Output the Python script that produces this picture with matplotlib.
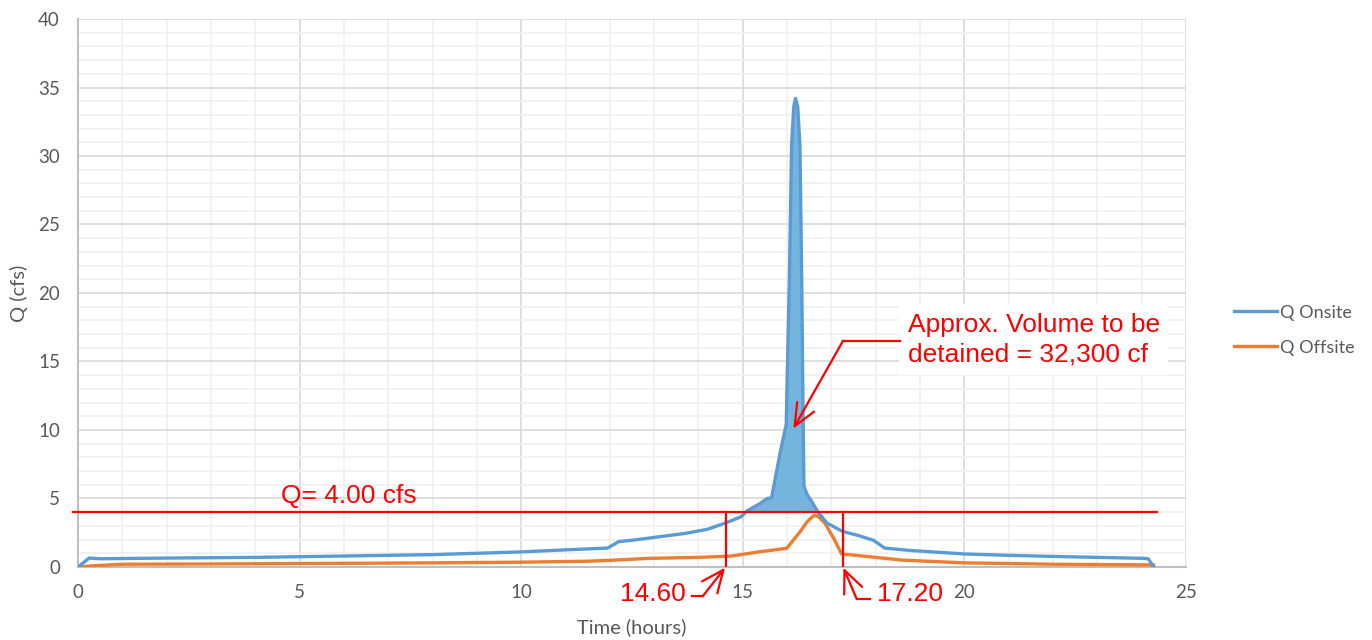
import numpy as np
import matplotlib.pyplot as plt
from matplotlib.ticker import MultipleLocator

# hydrograph readings (hours, cfs)
t_on = [0, 0.25, 0.5, 2, 4, 6, 8, 10, 11, 11.95, 12.2, 12.5, 13.1, 13.7, 14.2, 14.6,
        14.95, 15.1, 15.4, 15.55, 15.65, 15.84, 15.98, 16.0, 16.05, 16.1, 16.15, 16.19,
        16.24, 16.29, 16.33, 16.36, 16.38, 16.45, 16.55, 16.7, 16.9, 17.25, 17.6, 17.95,
        18.2, 18.8, 20, 21, 22, 23, 24.05, 24.15, 24.27]
q_on = [0, 0.65, 0.6, 0.65, 0.7, 0.8, 0.9, 1.1, 1.25, 1.38, 1.85, 1.95, 2.2, 2.45, 2.75, 3.2,
        3.65, 4.1, 4.65, 5.0, 5.05, 8.3, 10.4, 13.6, 20.9, 30.7, 33.6, 34.2,
        33.6, 30.7, 20.9, 11.2, 5.9, 5.3, 4.8, 4.0, 3.2, 2.6, 2.3, 1.95,
        1.38, 1.2, 0.95, 0.85, 0.77, 0.7, 0.63, 0.6, 0.0]

t_off = [0, 0.4, 1, 3, 5, 8, 10, 11.5, 12.1, 12.9, 14, 14.75, 15.4, 15.99, 16.3, 16.45,
         16.6, 16.7, 16.85, 17.05, 17.23, 17.4, 18, 18.6, 20, 22, 24.27]
q_off = [0, 0.1, 0.2, 0.22, 0.25, 0.3, 0.35, 0.42, 0.5, 0.63, 0.7, 0.8, 1.12, 1.36, 2.6, 3.3,
         3.75, 3.7, 3.2, 2.1, 0.95, 0.9, 0.7, 0.5, 0.3, 0.2, 0.15]

q_limit = 4.00
t_start = 14.62
t_end = 17.27

blue = '#5B9BD5'
orange = '#ED7D31'
grey = '#595959'

fig = plt.figure(figsize=(13.72, 6.4), dpi=100)
ax = fig.add_axes([0.0569, 0.1141, 0.8075, 0.8562])

t_on_a = np.array(t_on)
q_on_a = np.array(q_on)
ax.fill_between(t_on_a, q_on_a, q_limit, where=q_on_a > q_limit, interpolate=True,
                color='#74B5DD', lw=0, zorder=2)

ax.plot(t_on, q_on, color=blue, lw=2.4, label='Q Onsite', zorder=4,
        solid_joinstyle='round')
ax.plot(t_off, q_off, color=orange, lw=2.4, label='Q Offsite', zorder=3,
        solid_joinstyle='round')

ax.set_xlim(0, 25)
ax.set_ylim(0, 40)
ax.xaxis.set_major_locator(MultipleLocator(5))
ax.xaxis.set_minor_locator(MultipleLocator(1))
ax.yaxis.set_major_locator(MultipleLocator(5))
ax.yaxis.set_minor_locator(MultipleLocator(1))
ax.grid(which='major', color='#D9D9D9', lw=1.2, zorder=0)
ax.grid(which='minor', color='#F0F0F0', lw=1.2, zorder=0)
ax.set_axisbelow(True)
for s in ['top', 'right']:
    ax.spines[s].set_visible(False)
for s in ['left', 'bottom']:
    ax.spines[s].set_color('#BFBFBF')
    ax.spines[s].set_linewidth(1.5)
ax.tick_params(which='both', length=0, labelsize=13.5, labelcolor=grey)
ax.tick_params(axis='x', pad=12)
ax.tick_params(axis='y', pad=13)
for lab in ax.get_xticklabels() + ax.get_yticklabels():
    lab.set_family('Lato')
ax.set_xlabel('Time (hours)', fontsize=14.5, color=grey, family='Lato', labelpad=13)
ax.set_ylabel('Q (cfs)', fontsize=14.5, color=grey, family='Lato', labelpad=7)

# threshold and limits
red = '#FF0000'
ax.plot([-0.11, 24.35], [q_limit, q_limit], color=red, lw=1.6, clip_on=False, zorder=5)
ax.plot([t_start, t_start], [0, q_limit], color=red, lw=1.6, zorder=5)
ax.plot([t_end, t_end], [0, q_limit], color=red, lw=1.6, zorder=5)

afont = dict(family='Liberation Sans', color=red, fontsize=19)
head = '->,head_length=1.6,head_width=0.7'
ax.text(4.58, 5.18, 'Q= 4.00 cfs', ha='left', va='center', **afont)

# 14.60 callout
ax.text(13.72, -1.95, '14.60', ha='right', va='center', clip_on=False, **afont)
ax.plot([13.85, 14.10], [-2.12, -2.12], color=red, lw=1.6, clip_on=False)
ax.annotate('', xy=(t_start - 0.02, -0.05), xytext=(14.10, -2.12),
            arrowprops=dict(arrowstyle=head, color=red, lw=1.6, shrinkA=0, shrinkB=0),
            annotation_clip=False)

# 17.20 callout
ax.text(18.03, -1.95, '17.20', ha='left', va='center', clip_on=False, **afont)
ax.plot([17.57, 17.87], [-2.34, -2.34], color=red, lw=1.6, clip_on=False)
ax.annotate('', xy=(t_end, -0.05), xytext=(17.57, -2.34),
            arrowprops=dict(arrowstyle=head, color=red, lw=1.6, shrinkA=0, shrinkB=0),
            annotation_clip=False)

# volume callout
ax.text(18.72, 16.6, 'Approx. Volume to be\ndetained = 32,300 cf', ha='left', va='center',
        linespacing=1.3, zorder=6,
        bbox=dict(facecolor='white', edgecolor='none', pad=6), **afont)
ax.plot([18.55, 17.26], [16.5, 16.5], color=red, lw=1.6, zorder=6)
ax.annotate('', xy=(16.14, 10.1), xytext=(17.26, 16.5),
            arrowprops=dict(arrowstyle=head, color=red, lw=1.6, shrinkA=0, shrinkB=0),
            zorder=6)

leg = ax.legend(loc='center left', bbox_to_anchor=(0.8875, 0.484),
                bbox_transform=fig.transFigure, frameon=False,
                handlelength=2.4, handletextpad=0.15, labelspacing=1.05,
                prop={'family': 'Lato', 'size': 13})
for txt in leg.get_texts():
    txt.set_color(grey)

fig.savefig('out.png', dpi=100)
